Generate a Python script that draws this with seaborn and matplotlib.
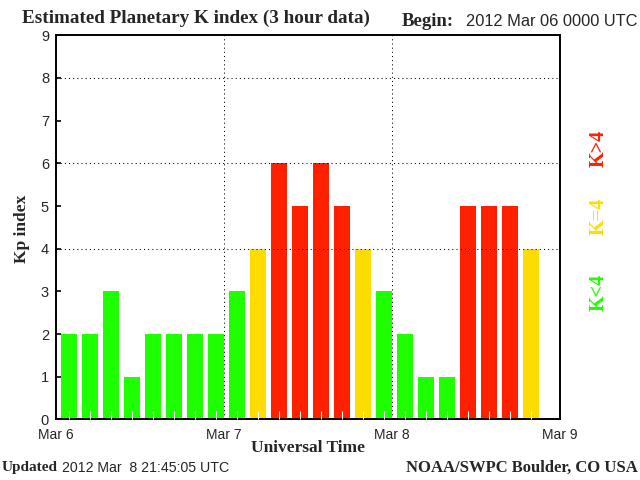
import numpy as np
import pandas as pd
import matplotlib
matplotlib.use("Agg")
import matplotlib.pyplot as plt
import seaborn as sns

# ---- data (3-hour Kp values starting 2012 Mar 06 00 UTC) ----
kp_values = [2, 2, 3, 1, 2, 2, 2, 2,
             3, 4, 6, 5, 6, 5, 4, 3,
             2, 1, 1, 5, 5, 5, 4]
day_labels = ["Mar 6", "Mar 7", "Mar 8", "Mar 9"]
y_ticks = list(range(0, 10))
grid_levels = [4, 6, 8]

GREEN = "#1EFF00"
YELLOW = "#FFDC00"
RED = "#FF2000"
palette = {"low": GREEN, "four": YELLOW, "high": RED}

hour_step = 3
hours = np.arange(len(kp_values)) * hour_step + 1.86
cat = ["low" if v < 4 else ("four" if v == 4 else "high") for v in kp_values]
df = pd.DataFrame({"hour": hours, "kp": kp_values, "cat": cat})

sns.set_style("white")
plt.rcParams["font.family"] = ["Liberation Sans", "DejaVu Sans"]

W, H = 640, 480
fig = plt.figure(figsize=(6.4, 4.8), dpi=100)
ax = fig.add_axes([56 / W, 1 - 419.4 / H, (560 - 56) / W, (419.4 - 35.3) / H])

sns.barplot(data=df, x="hour", y="kp", hue="cat", palette=palette,
            native_scale=True, dodge=False, width=0.78, legend=False,
            saturation=1, ax=ax, linewidth=0, edgecolor="none")

ax.set_axisbelow(False)
ax.set_xlim(0, 72)
ax.set_ylim(0, 9)

ax.set_xticks([0, 24, 48, 72])
ax.set_xticklabels(day_labels, fontsize=10)
ax.set_xticks(hours, minor=True)
ax.set_yticks(y_ticks)
ax.set_yticklabels([str(t) for t in y_ticks], fontsize=10.5)

ax.tick_params(axis="x", which="major", length=0, pad=6)
ax.tick_params(axis="x", which="minor", direction="in", length=5.8,
               width=0.8, color="white", bottom=True)
ax.tick_params(axis="y", which="major", direction="in", length=3.8,
               width=1.2, color="black", left=True, right=False, pad=5)

for s in ax.spines.values():
    s.set_visible(True)
    s.set_color("black")
    s.set_linewidth(1.4)

dots = (0, (1, 3))
for lvl in grid_levels:
    ax.axhline(lvl, color="black", lw=0.75, ls=dots, zorder=5)
for d in [24, 48]:
    ax.axvline(d, color="black", lw=0.75, ls=dots, zorder=5)

ax.set_xlabel("")
ax.set_ylabel("")

serif = ["Liberation Serif", "DejaVu Serif"]
sans = ["Liberation Sans", "DejaVu Sans"]

def ftext(x, y, s, **kw):
    fig.text(x / W, 1 - y / H, s, **kw)

ftext(22, 18, "Estimated Planetary K index (3 hour data)", family=serif,
      fontweight="bold", fontsize=13.8, ha="left", va="center")
ftext(402, 22, "Begin:", family=serif, fontweight="bold", fontsize=13.5,
      ha="left", va="center")
ftext(638, 22, "2012 Mar 06 0000 UTC", family=sans, fontsize=11.8,
      ha="right", va="center")

ftext(22, 229, "Kp index", family=serif, fontweight="bold", fontsize=12.5,
      rotation=90, ha="center", va="center")
ftext(308, 448, "Universal Time", family=serif, fontweight="bold",
      fontsize=12.5, ha="center", va="center")

ftext(2, 468, "Updated", family=serif, fontweight="bold", fontsize=11,
      ha="left", va="center")
ftext(62, 468, "2012 Mar  8 21:45:05 UTC", family=sans, fontsize=10.2,
      ha="left", va="center")
ftext(638, 468, "NOAA/SWPC Boulder, CO USA", family=serif, fontweight="bold",
      fontsize=12, ha="right", va="center")

ftext(599, 148, "K>4", family=serif, fontweight="bold", fontsize=14.5,
      color=RED, rotation=90, ha="center", va="center")
ftext(599, 216, "K=4", family=serif, fontweight="bold", fontsize=14.5,
      color=YELLOW, rotation=90, ha="center", va="center")
ftext(599, 292, "K<4", family=serif, fontweight="bold", fontsize=14.5,
      color=GREEN, rotation=90, ha="center", va="center")

fig.savefig("out.png", dpi=100, facecolor="white")
